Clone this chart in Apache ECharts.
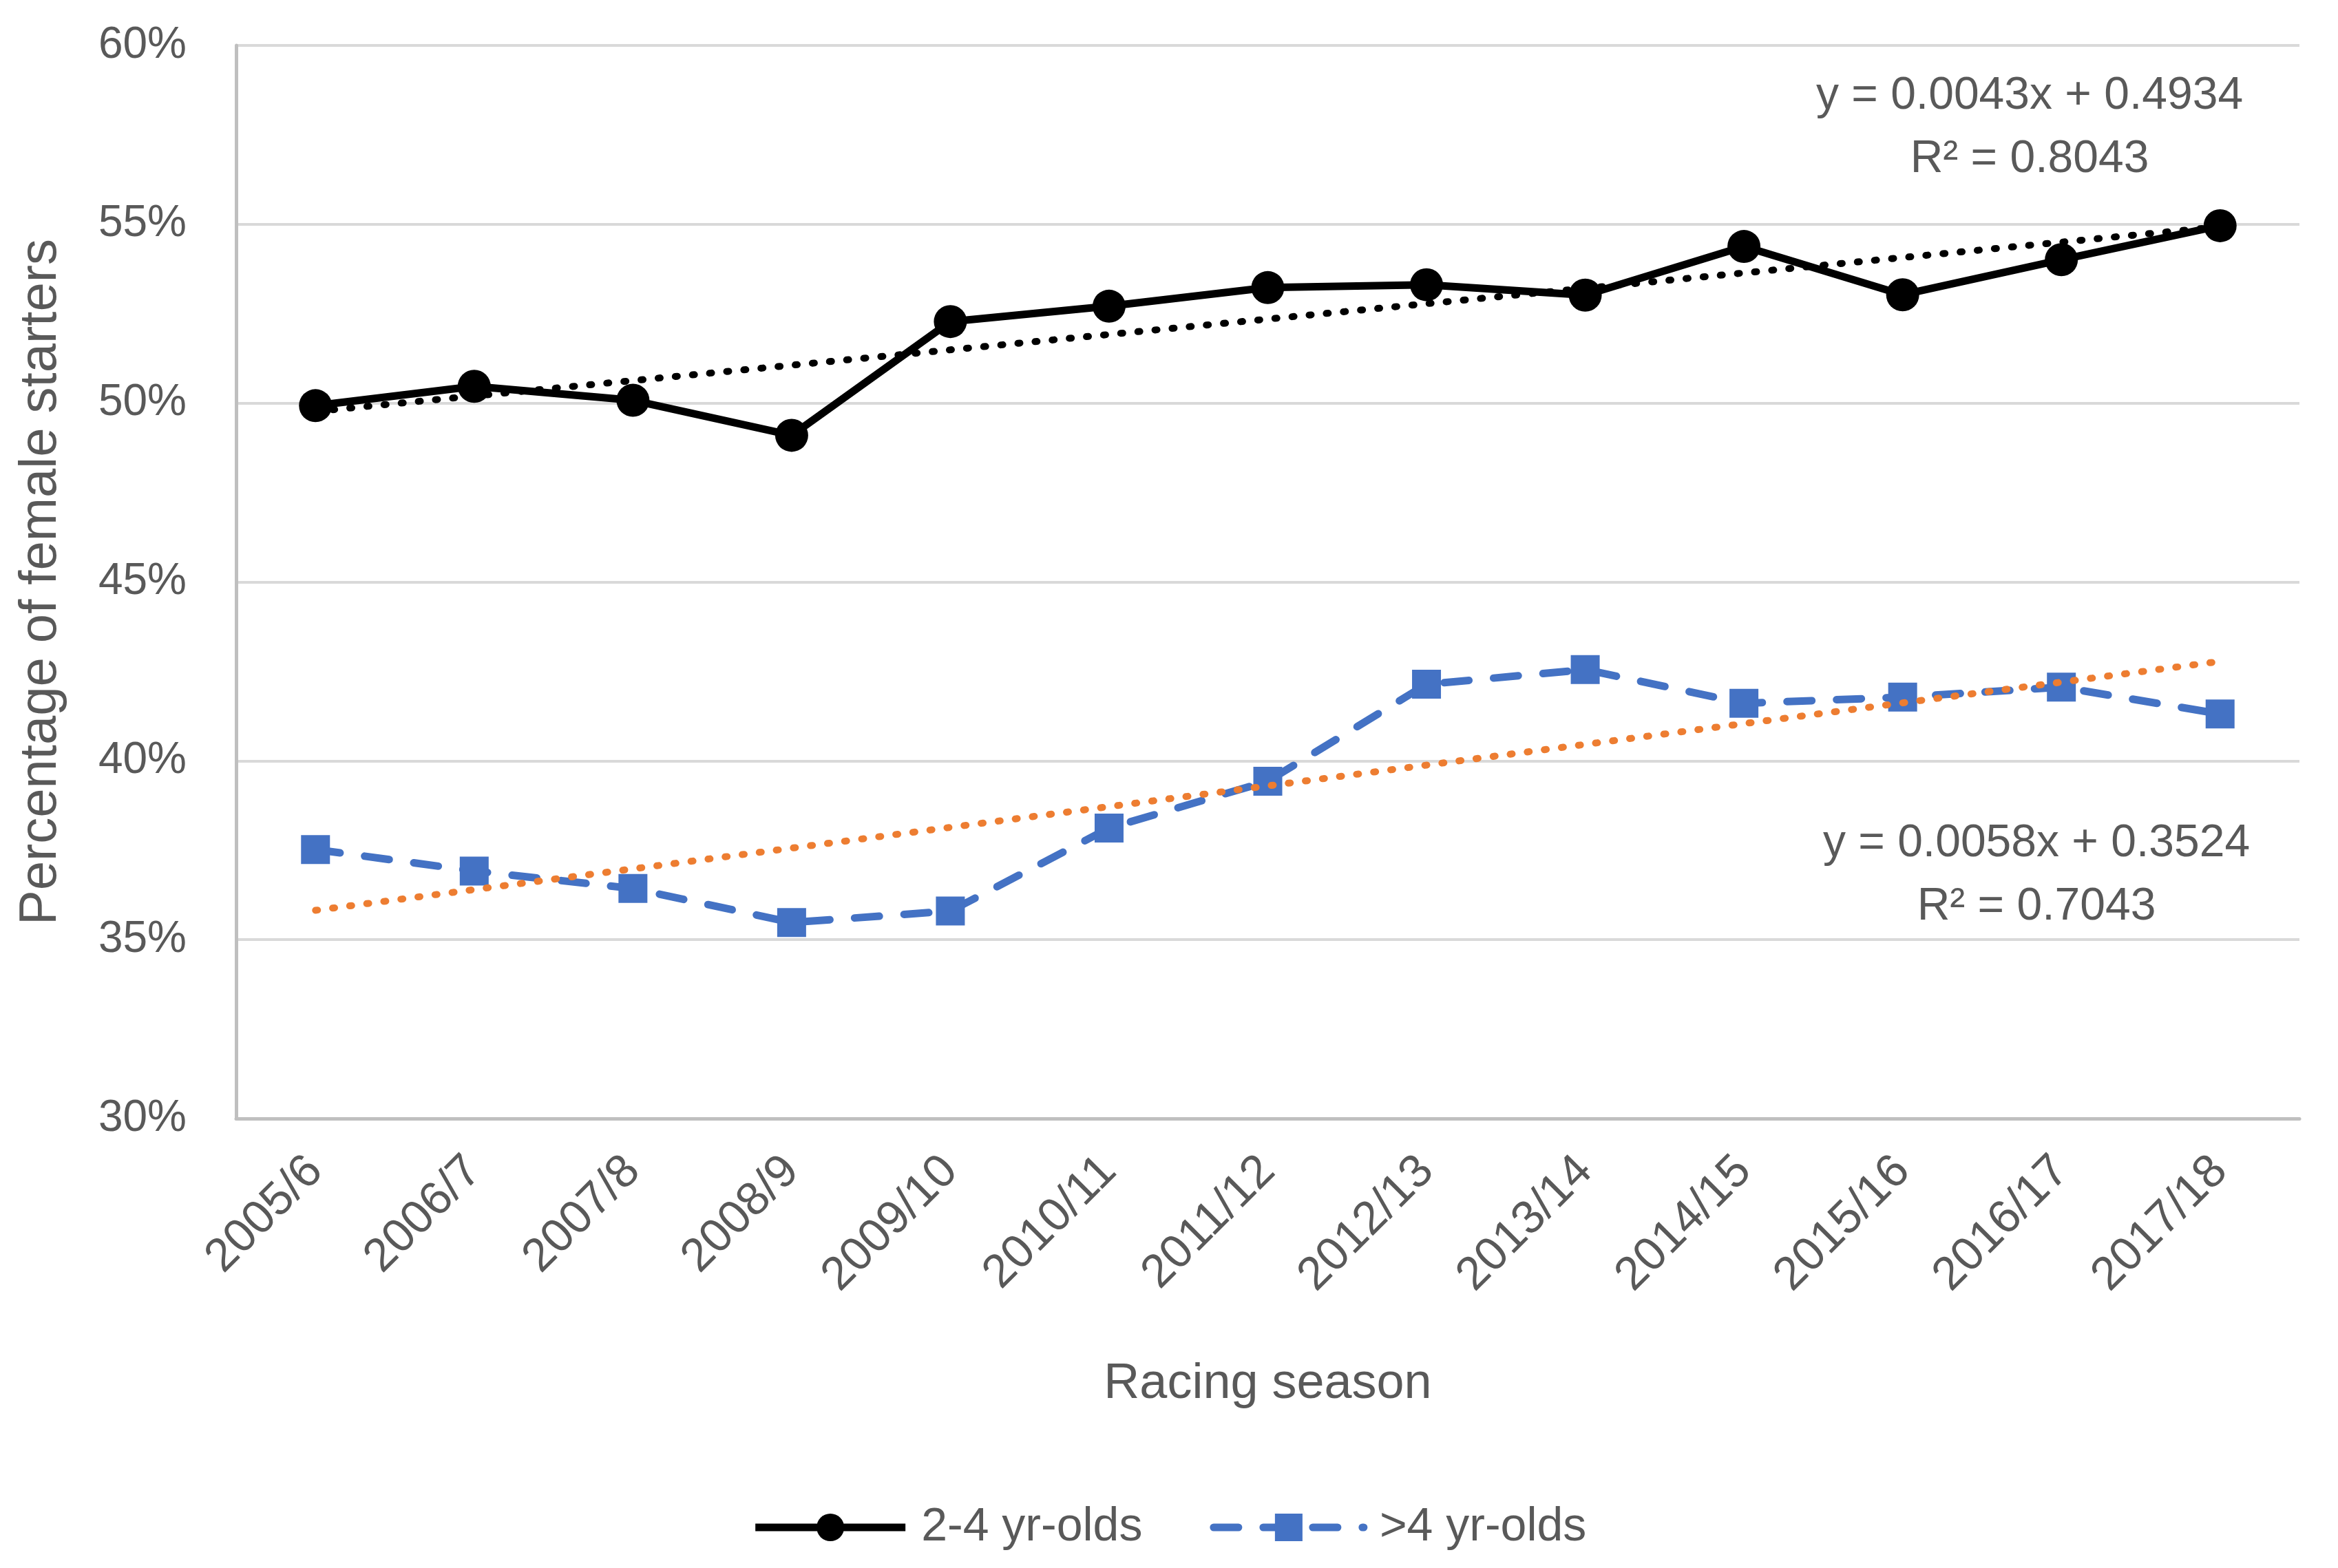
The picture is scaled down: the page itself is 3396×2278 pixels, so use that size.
<!DOCTYPE html>
<html>
<head>
<meta charset="utf-8">
<script src="https://cdn.jsdelivr.net/npm/echarts@6/dist/echarts.min.js"></script>
<style>html,body{margin:0;padding:0;background:#fff;}#c{width:3396px;height:2278px;}</style>
</head>
<body>
<div id="c"></div>
<script>
const seasons = ['2005/6','2006/7','2007/8','2008/9','2009/10','2010/11','2011/12','2012/13','2013/14','2014/15','2015/16','2016/17','2017/18'];
const young = [49.93, 50.47, 50.08, 49.10, 52.28, 52.71, 53.23, 53.31, 53.02, 54.38, 53.03, 54.01, 54.96];
const older = [37.52, 36.92, 36.43, 35.48, 35.80, 38.12, 39.43, 42.14, 42.55, 41.61, 41.78, 42.06, 41.31];
const youngTrend = [49.77, null, null, null, null, null, null, null, null, null, null, null, 54.93];
const olderTrend = [35.82, null, null, null, null, null, null, null, null, null, null, null, 42.78];
const yTicks = [30, 35, 40, 45, 50, 55, 60];
const eqYoung = ['y = 0.0043x + 0.4934', 'R² = 0.8043'];
const eqOlder = ['y = 0.0058x + 0.3524', 'R² = 0.7043'];

const FONT = 'Liberation Sans, Arial, sans-serif';
const TXT = '#595959';
const chart = echarts.init(document.getElementById('c'), null, {renderer: 'canvas'});

function eqText(lines, cx, y0) {
  return lines.map((t, i) => ({
    type: 'text', x: cx, y: y0 + i * 92,
    style: {text: t, fontSize: 66, fill: TXT, align: 'center', verticalAlign: 'middle', fontFamily: FONT}
  }));
}

chart.setOption({
  animation: false,
  backgroundColor: '#ffffff',
  textStyle: {fontFamily: FONT},
  grid: {left: 343, right: 56, top: 66, bottom: 653, containLabel: false},
  xAxis: {
    type: 'category',
    data: seasons,
    boundaryGap: true,
    name: 'Racing season',
    nameLocation: 'middle',
    nameGap: 350,
    nameTextStyle: {fontSize: 72, color: TXT, fontFamily: FONT},
    axisLine: {show: true, lineStyle: {color: '#BFBFBF', width: 5}},
    axisTick: {show: false},
    axisLabel: {rotate: 45, fontSize: 68, color: TXT, margin: 66, fontFamily: FONT},
    splitLine: {show: false}
  },
  yAxis: {
    type: 'value',
    min: yTicks[0],
    max: yTicks[yTicks.length - 1],
    interval: 5,
    name: 'Percentage of female starters',
    nameLocation: 'middle',
    nameGap: 245,
    nameTextStyle: {fontSize: 76, color: TXT, fontFamily: FONT},
    axisLine: {show: true, lineStyle: {color: '#BFBFBF', width: 5}},
    axisTick: {show: false},
    axisLabel: {formatter: '{value}%', fontSize: 64, color: TXT, margin: 72, fontFamily: FONT},
    splitLine: {show: true, lineStyle: {color: '#D9D9D9', width: 4}}
  },
  legend: {
    data: [
      {name: '2-4 yr-olds', lineStyle: {width: 11}},
      {name: '>4 yr-olds', lineStyle: {width: 11}}
    ],
    bottom: 20,
    left: 'center',
    itemWidth: 218,
    itemHeight: 50,
    itemGap: 98,
    textStyle: {fontSize: 68, color: TXT, fontFamily: FONT, padding: [0, 0, 0, 18]}
  },
  series: [
    {
      name: '2-4 yr-olds',
      type: 'line',
      data: young,
      symbol: 'circle',
      symbolSize: 48,
      itemStyle: {color: '#000000'},
      lineStyle: {color: '#000000', width: 11},
      z: 3
    },
    {
      name: '>4 yr-olds',
      type: 'line',
      data: older,
      symbol: 'rect',
      symbolSize: 42,
      itemStyle: {color: '#4472C4'},
      lineStyle: {color: '#4472C4', width: 11, type: [36, 36], cap: 'round'},
      z: 3
    },
    {
      name: 'trend young',
      type: 'line',
      data: youngTrend,
      connectNulls: true,
      symbol: 'none',
      lineStyle: {color: '#000000', width: 10, type: [3, 22], cap: 'round'},
      z: 4,
      silent: true
    },
    {
      name: 'trend older',
      type: 'line',
      data: olderTrend,
      connectNulls: true,
      symbol: 'none',
      lineStyle: {color: '#ED7D31', width: 10, type: [3, 22], cap: 'round'},
      z: 4,
      silent: true
    }
  ],
  graphic: eqText(eqYoung, 2948, 140).concat(eqText(eqOlder, 2958, 1226))
});
</script>
</body>
</html>
